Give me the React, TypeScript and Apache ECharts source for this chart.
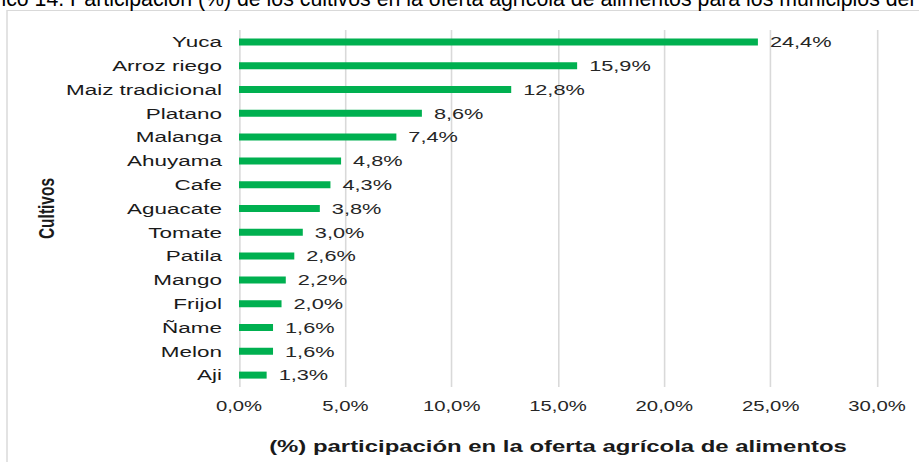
import React, { useEffect, useRef } from "react";
import * as echarts from "echarts";

const categories = [
  "Yuca",
  "Arroz riego",
  "Maiz tradicional",
  "Platano",
  "Malanga",
  "Ahuyama",
  "Cafe",
  "Aguacate",
  "Tomate",
  "Patila",
  "Mango",
  "Frijol",
  "Ñame",
  "Melon",
  "Aji",
];
const values = [24.4, 15.9, 12.8, 8.6, 7.4, 4.8, 4.3, 3.8, 3.0, 2.6, 2.2, 2.0, 1.6, 1.6, 1.3];
const xMin = 0;
const xMax = 30;
const xStep = 5;
const titleText =
  "Gráfico 14. Participación (%) de los cultivos en la oferta agrícola de alimentos para los municipios del";
const xAxisName = "(%) participación en la oferta agrícola de alimentos";
const yAxisName = "Cultivos";

const W = 919;
const H = 462;
const INNER_W = 634;
const S = W / INNER_W;
const FONT = "'Liberation Sans', Arial, sans-serif";

const fmt = (v: number) => v.toFixed(1).replace(".", ",") + "%";

export default function App() {
  const ref = useRef<HTMLDivElement>(null);
  useEffect(() => {
    if (!ref.current) return;
    const chart = echarts.init(ref.current, undefined, { renderer: "svg" });
    chart.setOption({
      animation: false,
      backgroundColor: "#ffffff",
      grid: { left: 239 / S, right: INNER_W - 877 / S, top: 30, bottom: H - 387, containLabel: false },
      graphic: [
        {
          type: "rect",
          silent: true,
          z: -1,
          shape: { x: 7 / S, y: 10.5, width: 2000, height: 2000 },
          style: { fill: "none", stroke: "#d9d9d9", lineWidth: 1 },
        },
        {
          type: "text",
          silent: true,
          x: -40 / S,
          y: -1,
          scaleX: 1 / S,
          style: {
            text: titleText,
            font: `21.3px ${FONT}`,
            fill: "#000000",
            verticalAlign: "middle",
            align: "left",
          },
        },
      ],
      xAxis: {
        type: "value",
        min: xMin,
        max: xMax,
        interval: xStep,
        axisLine: { show: false },
        axisTick: { show: false },
        splitLine: { show: true, lineStyle: { color: "#d9d9d9", width: 1.1 } },
        axisLabel: {
          formatter: (v: number) => fmt(v),
          fontFamily: FONT,
          fontSize: 14,
          color: "#262626",
          margin: 12,
        },
        name: xAxisName,
        nameLocation: "middle",
        nameGap: 50,
        nameMoveOverlap: false,
        nameTextStyle: { fontFamily: FONT, fontSize: 16.5, fontWeight: "bold", color: "#1a1a1a" },
      },
      yAxis: {
        type: "category",
        data: categories,
        inverse: true,
        axisLine: { show: false },
        axisTick: { show: false },
        splitLine: { show: false },
        axisLabel: {
          fontFamily: FONT,
          fontSize: 15.5,
          color: "#1a1a1a",
          margin: 17 / S,
        },
        name: yAxisName,
        nameLocation: "middle",
        nameGap: (239 - 58) / S,
        nameMoveOverlap: false,
        nameRotate: 90,
        nameTextStyle: { fontFamily: FONT, fontSize: 15.5, fontWeight: "bold", color: "#1a1a1a" },
      },
      series: [
        {
          type: "bar",
          data: values,
          barWidth: 7,
          itemStyle: { color: "#00b050" },
          label: {
            show: true,
            position: "right",
            distance: 12 / S,
            formatter: (p: any) => fmt(p.value),
            fontFamily: FONT,
            fontSize: 15,
            color: "#262626",
          },
        },
      ],
    });
    return () => chart.dispose();
  }, []);
  return (
    <div
      style={{
        position: "absolute",
        left: 0,
        top: 0,
        width: W,
        height: H,
        overflow: "hidden",
        background: "#ffffff",
      }}
    >
      <div
        ref={ref}
        style={{
          width: INNER_W,
          height: H,
          transform: `scaleX(${S})`,
          transformOrigin: "0 0",
        }}
      />
    </div>
  );
}
